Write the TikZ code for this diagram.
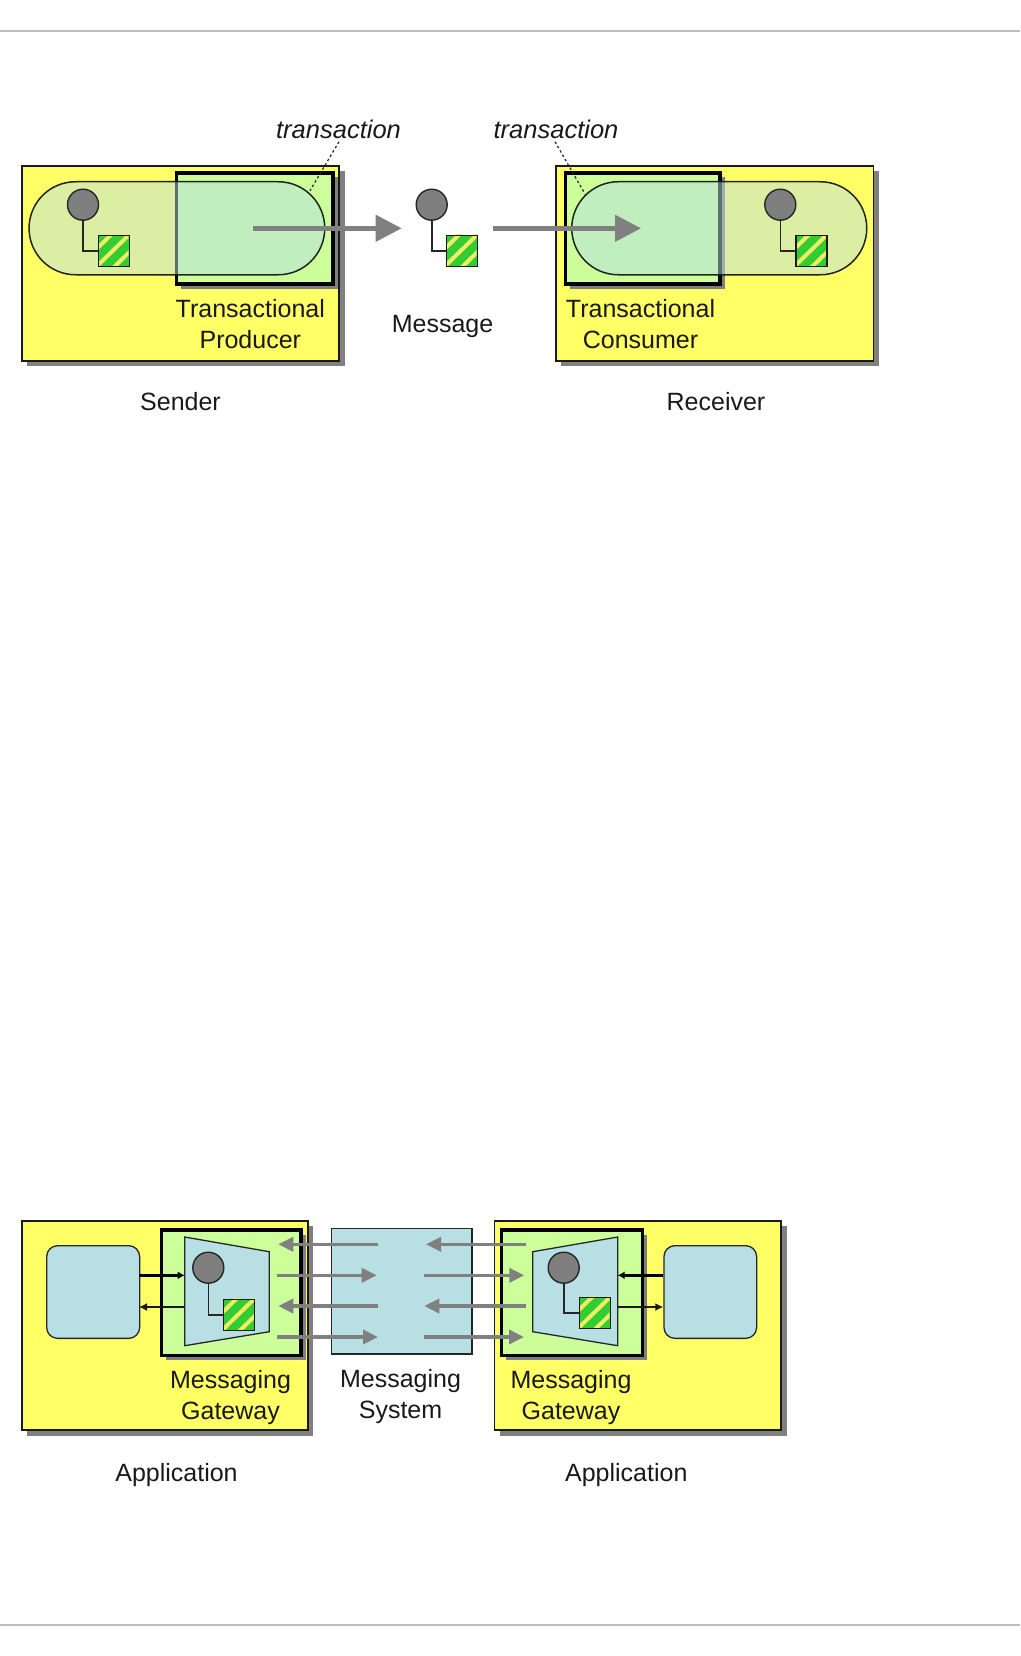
\documentclass[tikz,border=0pt]{standalone}
\usepackage{fontspec}
\setmainfont{Liberation Sans}
\usetikzlibrary{arrows.meta,calc}
\definecolor{appyellow}{HTML}{FFFF66}
\definecolor{innergreen}{HTML}{CCFF99}
\definecolor{paleblue}{HTML}{B8DFE3}
\definecolor{shadowgray}{HTML}{808080}
\definecolor{darkgray}{HTML}{7F7F7F}
\definecolor{hatchgreen}{HTML}{33CC33}
\definecolor{hatchyellow}{HTML}{EEEE66}
\definecolor{rule}{HTML}{BDBDBD}
\tikzset{
  lbl/.style={inner sep=0pt,align=center,font=\fontsize{25}{31}\selectfont,text=black!90},
  itl/.style={lbl,font=\fontsize{25.5}{30}\selectfont\itshape},
  outerbox/.style={draw=black!90,line width=1.8pt,fill=appyellow,inner sep=0pt},
  innerbox/.style={draw=black,line width=3.4pt,fill=innergreen,inner sep=0pt},
  circ/.style={circle,draw=black!85,line width=1.4pt,fill=darkgray,inner sep=0pt,minimum size=31pt},
  sq/.style={draw=black!90,line width=1.5pt,fill=hatchgreen,inner sep=0pt,minimum size=31pt},
  wire/.style={draw=black!85,line width=1.6pt},
  pill/.style={draw=black!90,line width=1.5pt,fill=paleblue,fill opacity=0.5,draw opacity=.95,rounded corners=46.5pt,inner sep=0pt},
  leader/.style={draw=black!85,line width=1.2pt,dash pattern=on 2.5pt off 2.5pt},
  bigarrow/.style={draw=shadowgray,line width=4.4pt,-{Triangle[length=26pt,width=26pt,fill=shadowgray]}},
  midarrow/.style={draw=shadowgray,line width=3.6pt,-{Triangle[length=15pt,width=14pt,fill=shadowgray]}},
  blackthick/.style={draw=black,line width=3pt,-{Latex[length=7pt,width=8pt]}},
  blackthin/.style={draw=black!90,line width=1.5pt,-{Latex[length=8pt,width=8pt]}},
  blue/.style={draw=black!85,line width=1.3pt,fill=paleblue,inner sep=0pt},
}
% box with shadow: #1 name, #2 style, #3 x0, #4 y0, #5 x1, #6 y1
\newcommand{\shbox}[6]{%
  \fill[shadowgray] (#3+5.5,#4+5.5) rectangle (#5+5.5,#6+5.5);
  \node[#2,anchor=north west,minimum width={#5-#3},minimum height={#6-#4}] (#1) at (#3-.8,#4-.8) {};
}
% plain box
\newcommand{\plbox}[6]{%
  \node[#2,anchor=north west,minimum width={#5-#3},minimum height={#6-#4}] (#1) at (#3,#4) {};
}
% message: #1 name, #2 circle x, #3 circle y, #4 sq left, #5 sq top, #6 wire y
\newcommand{\msgsym}[6]{%
  \node[circ] (#1c) at (#2,#3) {};
  \node[sq,anchor=north west] (#1s) at (#4-.5,#5-.5) {};
  \begin{scope}
    \clip (#4-.5,#5-.5) rectangle (#4+30.5,#5+30.5);
    \foreach \d in {-18,0,18}
      \draw[hatchyellow,line width=4pt] (#4+15+\d-20,#5+35) -- (#4+15+\d+20,#5-4);
  \end{scope}
  \node[sq,anchor=north west,fill=none] (#1f) at (#4-.5,#5-.5) {};
  \draw[wire] (#1c.south) |- (#1s.west);
}
\begin{document}
\begin{tikzpicture}[x=1pt,y=-1pt]
\useasboundingbox (0,0) rectangle (1020,1656);
\coordinate (rta) at (0,31); \coordinate (rtb) at (1020,31);
\coordinate (rba) at (0,1624.7); \coordinate (rbb) at (1020,1624.7);
\draw[rule,line width=2pt] (rta) -- (rtb);
\draw[rule,line width=2pt] (rba) -- (rbb);

% ---- top diagram
\shbox{sender}{outerbox}{21.7}{166}{339}{360.7}
\shbox{prod}{innerbox}{175.7}{172}{332}{283}
\plbox{spill}{pill}{28.3}{181}{324}{274}
\msgsym{sm}{83}{204.7}{98}{235}{251}

\shbox{receiver}{outerbox}{555.7}{166}{873.3}{360.7}
\shbox{cons}{innerbox}{564.3}{172}{719}{283}
\plbox{rpill}{pill}{571}{181}{866}{274}
\msgsym{rm}{780.3}{204.7}{795.7}{235}{251}

\msgsym{mm}{431.7}{204.7}{446}{235}{251}

\node[itl] (t1) at (338.5,129) {transaction};
\node[itl] (t2) at (556,129) {transaction};
\coordinate (l1a) at (310,190.7); \coordinate (l1b) at (339,141.7);
\coordinate (l2a) at (585,194); \coordinate (l2b) at (555,141.7);
\draw[leader] (l1b) -- (l1a);
\draw[leader] (l2b) -- (l2a);

\coordinate (a1s) at (253,228.3); \coordinate (a1e) at (401.7,228.3);
\coordinate (a2s) at (493.3,228.3); \coordinate (a2e) at (641,228.3);
\draw[bigarrow] (a1s) -- (a1e);
\draw[bigarrow] (a2s) -- (a2e);

\node[lbl] (ltp) at (250.3,324) {Transactional\\Producer};
\node[lbl] (ltc) at (640.5,324) {Transactional\\Consumer};
\node[lbl,anchor=base] (lmsg) at (442.5,332) {Message};
\node[lbl,anchor=base] (lsnd) at (180.5,410) {Sender};
\node[lbl,anchor=base] (lrcv) at (716,410) {Receiver};

% ---- bottom diagram
\shbox{app1}{outerbox}{21.7}{1220.7}{307.7}{1430}
\shbox{gw1}{innerbox}{160.3}{1229}{300}{1354.7}
\shbox{app2}{outerbox}{494.3}{1220.7}{781}{1430}
\shbox{gw2}{innerbox}{500.7}{1229}{641.3}{1354.7}
\plbox{sys}{blue}{331}{1228}{471.3}{1353.3}

\plbox{ra1}{blue,rounded corners=11pt}{46}{1245}{139}{1337.7}
\plbox{ra2}{blue,rounded corners=11pt}{663.3}{1245}{756}{1337.7}

\coordinate (t1a) at (184.7,1237); \coordinate (t1b) at (269.3,1251.7);
\coordinate (t1c) at (269.3,1331.7); \coordinate (t1d) at (184.7,1345.7);
\draw[blue] (t1a) -- (t1b) -- (t1c) -- (t1d) -- cycle;
\coordinate (t2a) at (617.7,1237); \coordinate (t2b) at (532.7,1251.7);
\coordinate (t2c) at (532.7,1331.7); \coordinate (t2d) at (617.7,1345.7);
\draw[blue] (t2a) -- (t2b) -- (t2c) -- (t2d) -- cycle;

\msgsym{g1}{208.3}{1267.7}{223.3}{1299}{1314.7}
\msgsym{g2}{563.7}{1267.7}{579}{1297.3}{1313}

\coordinate (b1a) at (139,1275.3); \coordinate (b1b) at (184.7,1275.3);
\coordinate (b2a) at (184.7,1307); \coordinate (b2b) at (139,1307);
\coordinate (b3a) at (663.3,1275.3); \coordinate (b3b) at (617.7,1275.3);
\coordinate (b4a) at (617.7,1307); \coordinate (b4b) at (663.3,1307);
\draw[blackthick] (b1a) -- (b1b);
\draw[blackthin] (b2a) -- (b2b);
\draw[blackthick] (b3a) -- (b3b);
\draw[blackthin] (b4a) -- (b4b);

\coordinate (g1a) at (378.3,1244.3); \coordinate (g1b) at (278.3,1244.3);
\coordinate (g2a) at (276.7,1275.3); \coordinate (g2b) at (376.7,1275.3);
\coordinate (g3a) at (378.3,1306); \coordinate (g3b) at (278.3,1306);
\coordinate (g4a) at (277,1337); \coordinate (g4b) at (378,1337);
\coordinate (g5a) at (526,1244.3); \coordinate (g5b) at (426,1244.3);
\coordinate (g6a) at (424,1275.3); \coordinate (g6b) at (524.3,1275.3);
\coordinate (g7a) at (526,1306); \coordinate (g7b) at (424.3,1306);
\coordinate (g8a) at (424,1337); \coordinate (g8b) at (524,1337);
\foreach \p in {1,...,8} \draw[midarrow] (g\p a) -- (g\p b);

\node[lbl] (lgw1) at (230.5,1397.5) {Messaging\\Gateway};
\node[lbl] (lgw2) at (571,1397.5) {Messaging\\Gateway};
\node[lbl] (lsys) at (400.5,1396.5) {Messaging\\System};
\node[lbl,anchor=base] (lap1) at (176.5,1481) {Application};
\node[lbl,anchor=base] (lap2) at (626.3,1481) {Application};
\end{tikzpicture}
\end{document}
